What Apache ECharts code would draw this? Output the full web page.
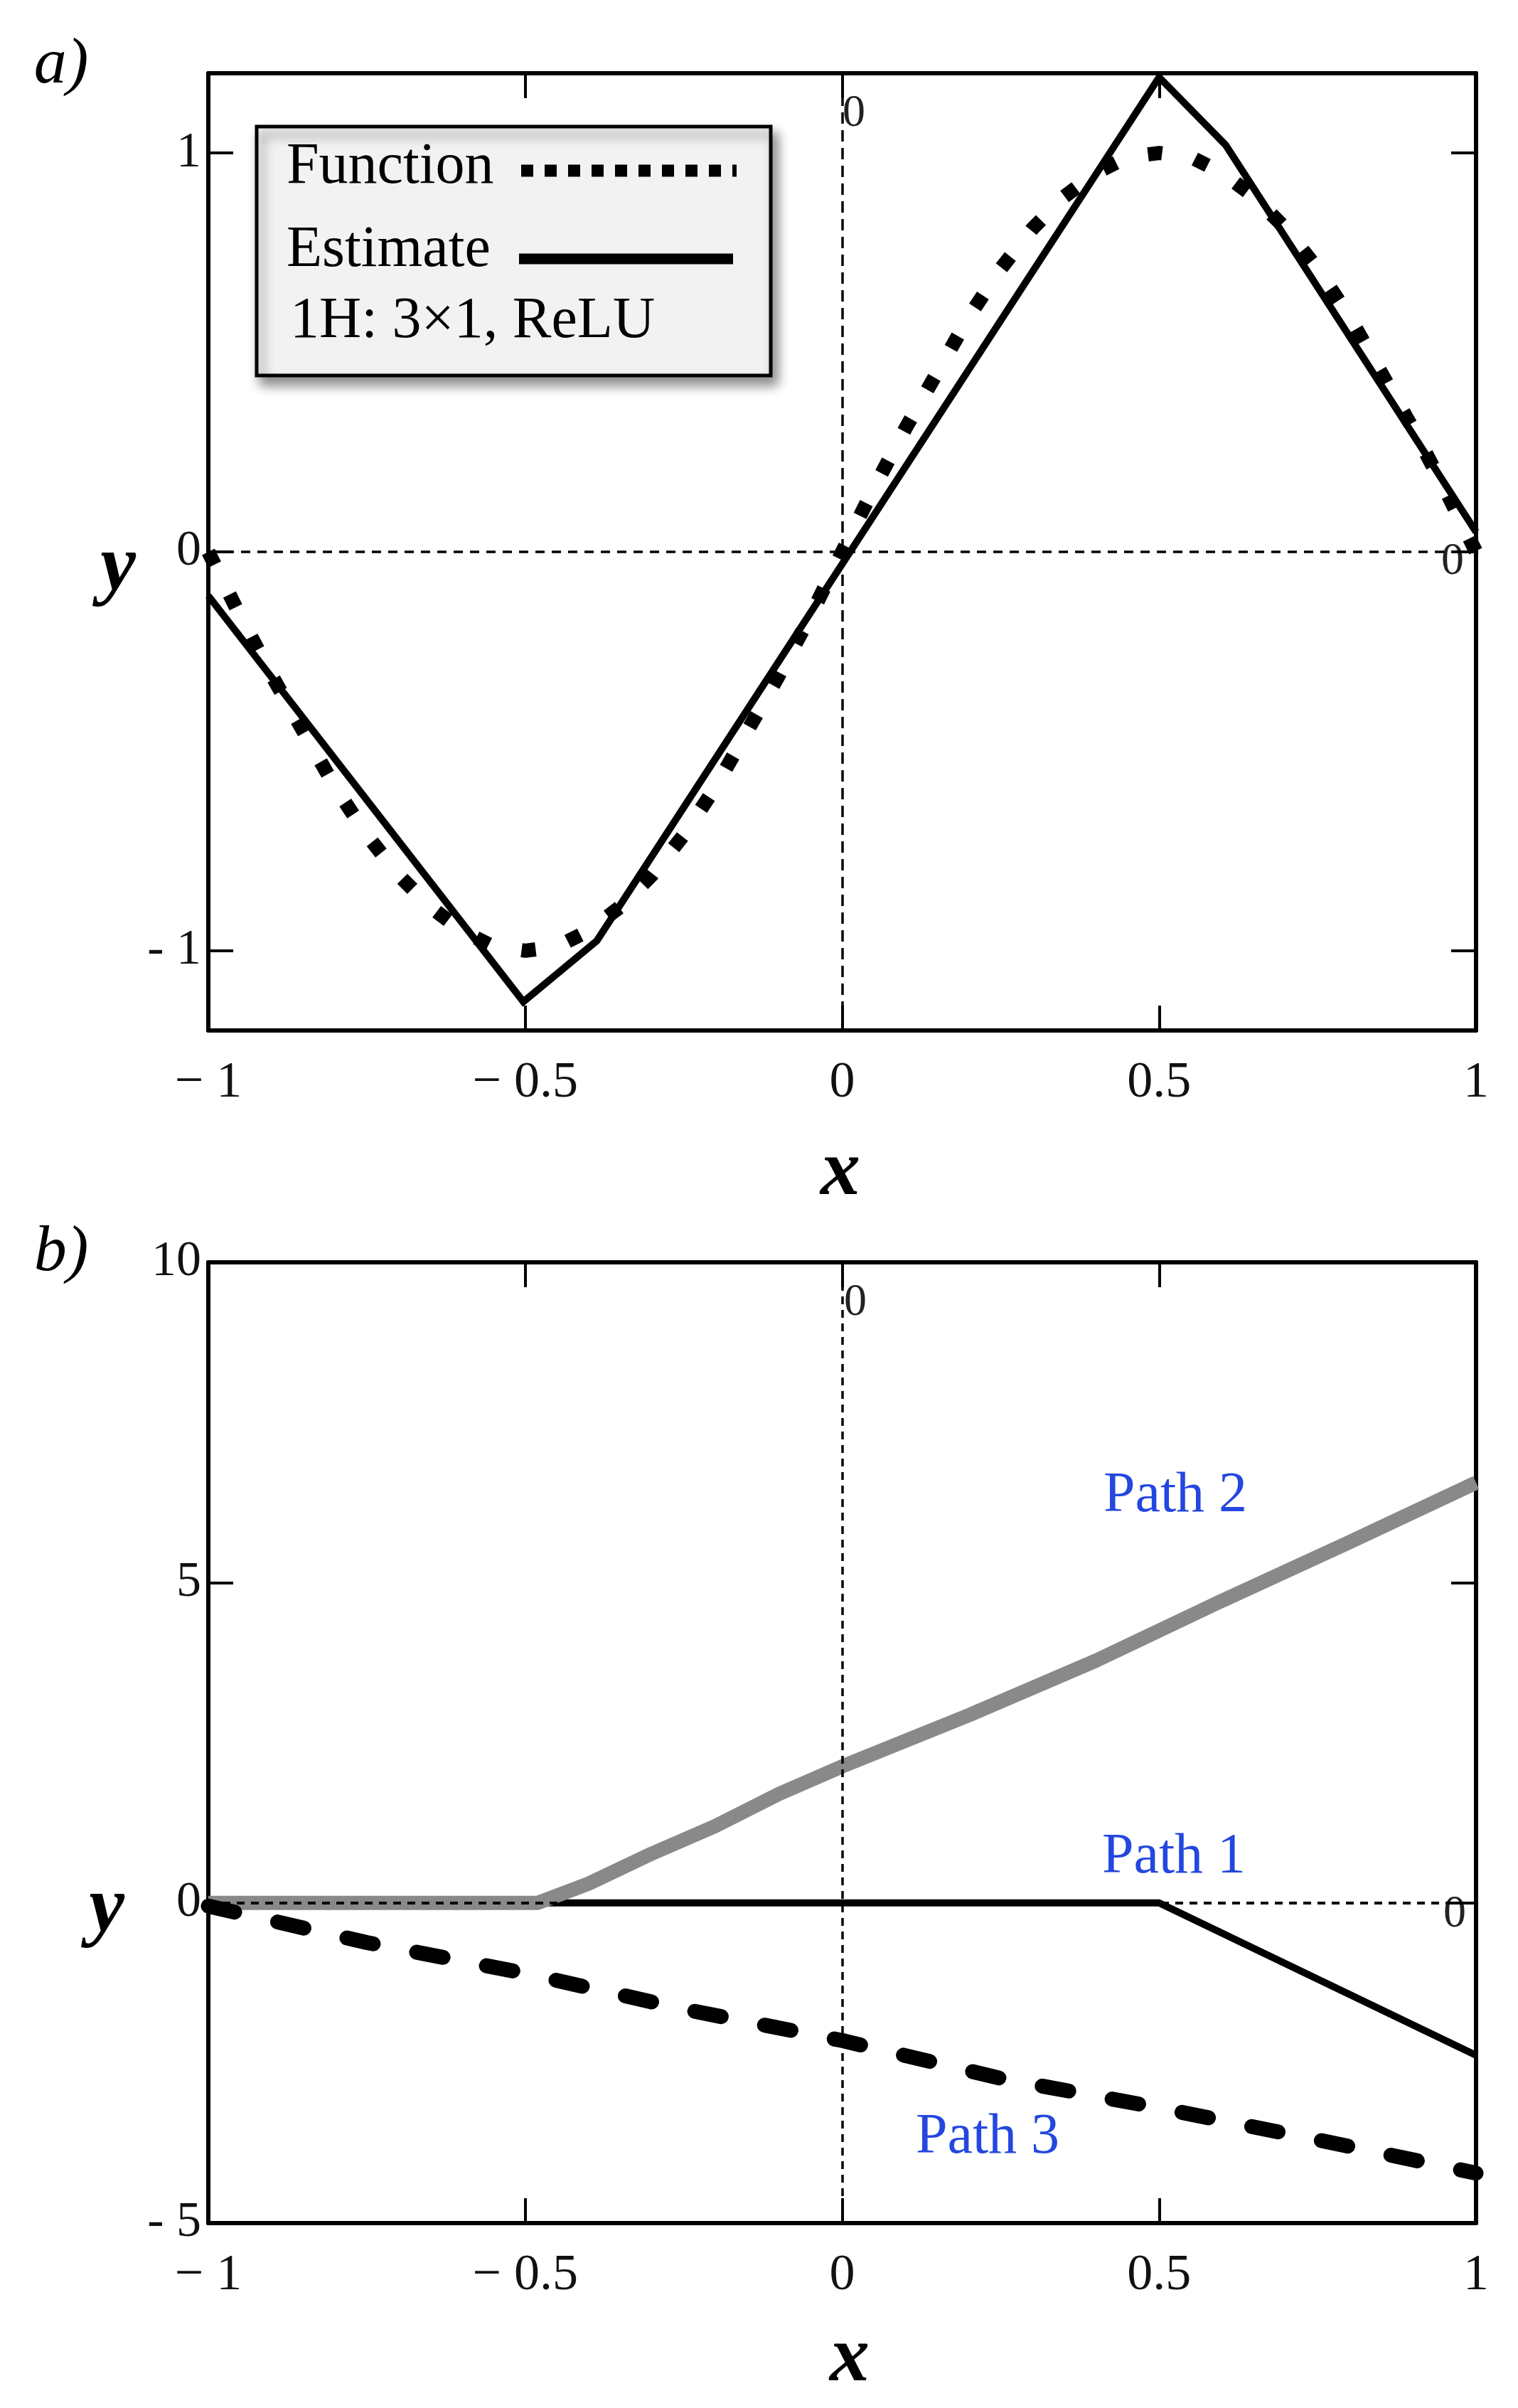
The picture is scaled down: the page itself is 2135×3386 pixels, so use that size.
<!DOCTYPE html>
<html>
<head>
<meta charset="utf-8">
<script src="https://cdn.jsdelivr.net/npm/echarts@6/dist/echarts.min.js"></script>
<style>
html,body{margin:0;padding:0;background:#fff;}
#c{width:2135px;height:3386px;}
</style>
</head>
<body>
<div id="c"></div>
<script>
// ---------- data ----------
const xTicks = [-1, -0.5, 0, 0.5, 1];
const yTicksA = [-1, 0, 1];
const yTicksB = [-5, 0, 5, 10];

// panel a) : target function (dotted) and network estimate (solid)
const funcX = [-1,-0.95,-0.9,-0.85,-0.8,-0.75,-0.7,-0.65,-0.6,-0.55,-0.5,-0.45,-0.4,-0.35,-0.3,-0.25,-0.2,-0.15,-0.1,-0.05,0,0.05,0.1,0.15,0.2,0.25,0.3,0.35,0.4,0.45,0.5,0.55,0.6,0.65,0.7,0.75,0.8,0.85,0.9,0.95,1];
const funcY = [0,-0.16,-0.31,-0.45,-0.59,-0.71,-0.81,-0.89,-0.95,-0.99,-1.0,-0.99,-0.95,-0.89,-0.81,-0.71,-0.59,-0.45,-0.31,-0.16,0,0.16,0.31,0.45,0.59,0.71,0.81,0.89,0.95,0.99,1.0,0.99,0.95,0.89,0.81,0.71,0.59,0.45,0.31,0.16,0];
const estX = [-1, -0.503, -0.387, 0.5, 0.605, 1];
const estY = [-0.11, -1.128, -0.975, 1.19, 1.02, 0.05];

// panel b) : the three paths
const path1X = [-1, 0.5, 1];
const path1Y = [0, 0, -2.38];
const path2X = [-1, -0.48, -0.4, -0.3, -0.2, -0.1, 0, 0.2, 0.4, 0.6, 0.8, 1];
const path2Y = [0, 0, 0.3, 0.77, 1.2, 1.7, 2.13, 2.93, 3.78, 4.72, 5.63, 6.56];
const path3X = [-1, -0.75, -0.5, -0.25, 0, 0.25, 0.5, 0.75, 1];
const path3Y = [-0.05, -0.62, -1.1, -1.66, -2.15, -2.74, -3.2, -3.7, -4.22];

const legendTexts = ['Function', 'Estimate', '1H: 3\u00d71, ReLU'];
const pathNames = ['Path 1', 'Path 2', 'Path 3'];

// ---------- helpers ----------
const zip = (xs, ys) => xs.map((x, i) => [x, ys[i]]);
const SERIF = '"Liberation Serif", "Times New Roman", serif';
const fmtX = v => (v < 0 ? '\u2212 ' + Math.abs(v) : String(v));
const fmtY = v => (v < 0 ? '- ' + Math.abs(v) : String(v));

function xAxis(gi, pos, showLabel) {
  return {
    type: 'value', gridIndex: gi, position: pos, min: -1, max: 1, interval: 0.5,
    axisLine: {show: true, onZero: false, lineStyle: {color: '#000', width: 6}},
    axisTick: {show: true, inside: true, length: 35, lineStyle: {color: '#000', width: 4}},
    axisLabel: {show: showLabel, margin: 38, fontFamily: SERIF, fontSize: 72, color: '#111', formatter: fmtX},
    splitLine: {show: false}
  };
}
function yAxis(gi, pos, showLabel, min, max, ticks) {
  return {
    type: 'value', gridIndex: gi, position: pos, min: min, max: max,
    axisLine: {show: true, onZero: false, lineStyle: {color: '#000', width: 6}},
    axisTick: {show: true, inside: true, length: 35, lineStyle: {color: '#000', width: 4}, customValues: ticks},
    axisLabel: {show: showLabel, margin: 10, fontFamily: SERIF, fontSize: 70, color: '#111',
      formatter: fmtY, customValues: ticks, padding: [30, 0, 0, 0]},
    splitLine: {show: false}
  };
}

const zeroLineA = {
  silent: true, symbol: 'none', label: {show: false},
  data: [
    {yAxis: 0, lineStyle: {color: '#000', width: 3.5, type: [13, 10]}},
    {xAxis: 0, lineStyle: {color: '#000', width: 3.5, type: [16, 9]}}
  ]
};
const zeroLineB = {
  silent: true, symbol: 'none', label: {show: false},
  data: [
    {yAxis: 0, lineStyle: {color: '#000', width: 4, type: [11, 9]}},
    {xAxis: 0, lineStyle: {color: '#000', width: 3.5, type: [11, 8]}}
  ]
};

const chart = echarts.init(document.getElementById('c'), null, {renderer: 'canvas'});

const txt = (text, x, y, font, extra) => ({
  type: 'text', x: x, y: y, silent: true,
  style: Object.assign({text: text, font: font, fill: '#000', align: 'center', verticalAlign: 'middle'}, extra || {})
});

const option = {
  backgroundColor: '#fff',
  animation: false,
  grid: [
    {left: 293, top: 103, width: 1783, height: 1346},
    {left: 293, top: 1775, width: 1783, height: 1351}
  ],
  xAxis: [xAxis(0, 'bottom', true), xAxis(0, 'top', false), xAxis(1, 'bottom', true), xAxis(1, 'top', false)],
  yAxis: [
    yAxis(0, 'left', true, -1.2, 1.2, yTicksA), yAxis(0, 'right', false, -1.2, 1.2, yTicksA),
    Object.assign(yAxis(1, 'left', true, -5, 10, yTicksB), {interval: 5}),
    Object.assign(yAxis(1, 'right', false, -5, 10, yTicksB), {interval: 5})
  ],
  series: [
    {
      name: legendTexts[1], type: 'line', xAxisIndex: 0, yAxisIndex: 0, z: 2,
      data: zip(estX, estY), showSymbol: false, symbol: 'none',
      lineStyle: {color: '#000', width: 10, join: 'miter'},
      markLine: zeroLineA
    },
    {
      name: legendTexts[0], type: 'line', xAxisIndex: 0, yAxisIndex: 0, z: 3,
      data: zip(funcX, funcY), showSymbol: false, symbol: 'none',
      lineStyle: {color: '#000', width: 20, type: [20, 47], cap: 'butt'}
    },
    {
      name: pathNames[0], type: 'line', xAxisIndex: 2, yAxisIndex: 2, z: 2,
      data: zip(path1X, path1Y), showSymbol: false, symbol: 'none',
      lineStyle: {color: '#000', width: 10}
    },
    {
      name: pathNames[1], type: 'line', xAxisIndex: 2, yAxisIndex: 2, z: 3,
      data: zip(path2X, path2Y), showSymbol: false, symbol: 'none',
      lineStyle: {color: '#898989', width: 20},
      markLine: zeroLineB
    },
    {
      name: pathNames[2], type: 'line', xAxisIndex: 2, yAxisIndex: 2, z: 6,
      data: zip(path3X, path3Y), showSymbol: false, symbol: 'none',
      lineStyle: {color: '#000', width: 21, type: [38, 62], cap: 'round'}
    }
  ],
  graphic: [
    // panel letters and axis titles
    txt('a)', 86, 92, 'italic 92px ' + SERIF),
    txt('b)', 86, 1762, 'italic 92px ' + SERIF),
    txt('y', 166, 800, 'italic bold 112px ' + SERIF),
    txt('x', 1182, 1650, 'italic bold 112px ' + SERIF),
    txt('y', 150, 2686, 'italic bold 112px ' + SERIF),
    txt('x', 1195, 3318, 'italic bold 112px ' + SERIF),
    // zero-line labels
    txt('0', 1201, 160, '64px ' + SERIF, {fill: '#222'}),
    txt('0', 2043, 790, '64px ' + SERIF, {fill: '#222'}),
    txt('0', 1203, 1832, '64px ' + SERIF, {fill: '#222'}),
    txt('0', 2046, 2692, '64px ' + SERIF, {fill: '#222'}),
    // path labels
    txt(pathNames[1], 1653, 2104, '80px ' + SERIF, {fill: '#2347df'}),
    txt(pathNames[0], 1651, 2612, '80px ' + SERIF, {fill: '#2347df'}),
    txt(pathNames[2], 1389, 3006, '80px ' + SERIF, {fill: '#2347df'}),
    // legend box
    {
      type: 'group', z: 100,
      children: [
        {type: 'rect', shape: {x: 361, y: 178, width: 723, height: 350},
          style: {fill: '#f2f2f2', stroke: '#000', lineWidth: 5,
            shadowBlur: 16, shadowOffsetX: 7, shadowOffsetY: 11, shadowColor: 'rgba(0,0,0,0.45)'}},
        txt(legendTexts[0], 403, 235, '82px ' + SERIF, {align: 'left'}),
        txt(legendTexts[1], 403, 352, '82px ' + SERIF, {align: 'left'}),
        txt(legendTexts[2], 408, 452, '82px ' + SERIF, {align: 'left'}),
        {type: 'line', shape: {x1: 733, y1: 240, x2: 1036, y2: 240},
          style: {stroke: '#000', lineWidth: 17, lineDash: [17, 16]}},
        {type: 'line', shape: {x1: 730, y1: 364, x2: 1031, y2: 364},
          style: {stroke: '#000', lineWidth: 15}}
      ]
    }
  ]
};
chart.setOption(option);
</script>
</body>
</html>
